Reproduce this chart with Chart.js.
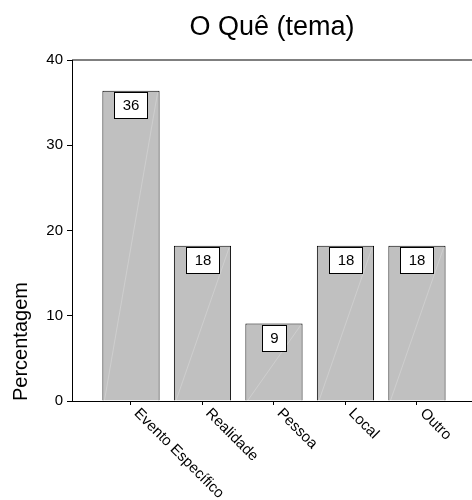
<!DOCTYPE html>
<html>
<head>
<meta charset="utf-8">
<script src="https://cdn.jsdelivr.net/npm/chart.js@4"></script>
<style>
  body { margin: 0; background: #fff; }
</style>
</head>
<body>
<canvas id="temaChart" width="472" height="500"></canvas>
<script>
const categories = ['Evento Específico', 'Realidade', 'Pessoa', 'Local', 'Outro'];
const percentages = [36.4, 18.2, 9.1, 18.2, 18.2]; // 4/11, 2/11, 1/11 ...
const yTicks = [0, 10, 20, 30, 40];

const FONT = 'Arial, "Liberation Sans", sans-serif';

// value boxes on top of each bar, plus the faint diagonal the original export has in every bar
const barLabels = {
    id: 'barLabels',
    afterDatasetsDraw(chart) {
        const ctx = chart.ctx;
        const meta = chart.getDatasetMeta(0);
        const base = chart.scales.y.getPixelForValue(0);
        ctx.save();
        meta.data.forEach((bar, i) => {
            const half = bar.width / 2;
            ctx.strokeStyle = 'rgba(255,255,255,0.22)';
            ctx.lineWidth = 1;
            ctx.beginPath();
            ctx.moveTo(bar.x - half + 2, base);
            ctx.lineTo(bar.x + half - 2, bar.y + 2);
            ctx.stroke();

            const text = String(Math.round(percentages[i]));
            ctx.font = '15px ' + FONT;
            const w = Math.round(ctx.measureText(text).width + 16);
            const h = 26;
            const top = Math.round(bar.y + 1.5);
            const left = Math.round(bar.x - w / 2);
            ctx.fillStyle = '#fff';
            ctx.fillRect(left, top, w, h);
            ctx.strokeStyle = '#000';
            ctx.strokeRect(left + 0.5, top + 0.5, w, h);
            ctx.fillStyle = '#000';
            ctx.textAlign = 'center';
            ctx.textBaseline = 'middle';
            ctx.fillText(text, left + w / 2 + 0.5, top + h / 2 + 1);
        });
        ctx.restore();
    }
};

// top frame line and the slanted category labels
const frameAndLabels = {
    id: 'frameAndLabels',
    afterDraw(chart) {
        const { ctx, chartArea, scales: { x } } = chart;
        ctx.save();
        ctx.strokeStyle = '#000';
        ctx.lineWidth = 1;
        ctx.beginPath();
        ctx.moveTo(chartArea.left, chartArea.top);
        ctx.lineTo(chartArea.right, chartArea.top);
        ctx.stroke();

        ctx.font = '15px ' + FONT;
        ctx.fillStyle = '#000';
        ctx.textAlign = 'left';
        ctx.textBaseline = 'alphabetic';
        categories.forEach((c, i) => {
            const px = x.getPixelForValue(i);
            ctx.save();
            ctx.translate(px + 2.5, x.top + 13);
            ctx.rotate(Math.PI / 4);
            ctx.fillText(c, 0, 0);
            ctx.restore();
        });
        ctx.restore();
    }
};

const ctx = document.getElementById('temaChart').getContext('2d');

new Chart(ctx, {
    type: 'bar',
    data: {
        datasets: [{
            data: categories.map((c, i) => ({ x: i, y: percentages[i] })),
            backgroundColor: '#c0c0c0',
            borderColor: '#000',
            borderWidth: 1,
            barPercentage: 0.8,
            categoryPercentage: 1
        }]
    },
    options: {
        responsive: false,
        animation: false,
        devicePixelRatio: 1,
        layout: { padding: 0 },
        plugins: {
            legend: { display: false },
            tooltip: { enabled: false },
            title: {
                display: true,
                text: 'O Quê (tema)',
                fullSize: false,
                color: '#000',
                font: { family: FONT, size: 27, weight: 'normal', lineHeight: 1.2 },
                padding: { top: 11, bottom: 16.6 }
            }
        },
        scales: {
            x: {
                type: 'linear',
                min: -0.825,
                max: 4.77,
                offset: false,
                ticks: { display: false, stepSize: 1, includeBounds: false },
                grid: { drawOnChartArea: false, offset: false, tickLength: 4, color: '#000' },
                border: { display: true, color: '#000' },
                afterFit(s) { s.height = 99; }
            },
            y: {
                min: 0,
                max: 40,
                afterBuildTicks(s) { s.ticks = yTicks.map(v => ({ value: v })); },
                ticks: { color: '#000', padding: 4, font: { family: FONT, size: 15 } },
                grid: { drawOnChartArea: false, tickLength: 5, color: '#000' },
                border: { color: '#000' },
                title: {
                    display: true,
                    text: 'Percentagem',
                    align: 'start',
                    color: '#000',
                    font: { family: FONT, size: 20 },
                    padding: { top: 9, bottom: 0 }
                },
                afterFit(s) { s.width = 72; }
            }
        }
    },
    plugins: [barLabels, frameAndLabels]
});
</script>
</body>
</html>
